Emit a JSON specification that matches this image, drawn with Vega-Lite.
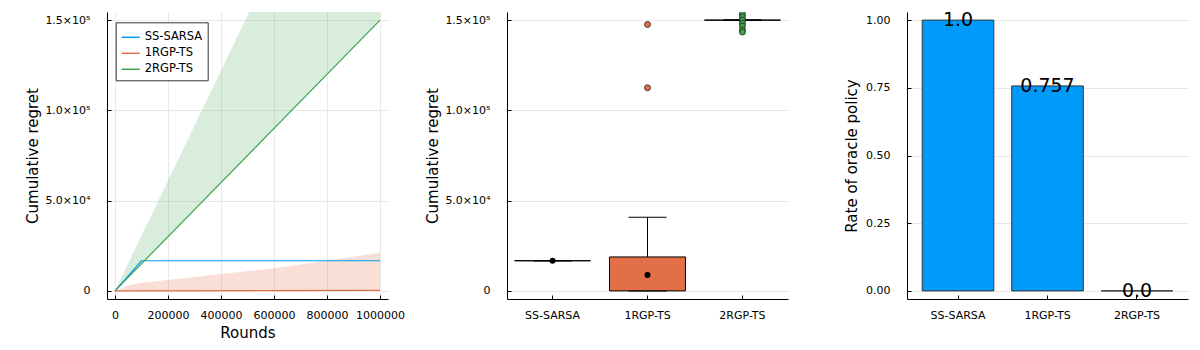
{
  "$schema": "https://vega.github.io/schema/vega-lite/v6.json",
  "padding": {"left": 25, "top": 12, "right": 5, "bottom": 5},
  "bounds": "flush",
  "spacing": 119,
  "config": {
    "font": "DejaVu Sans",
    "view": {"stroke": null},
    "axis": {
      "domainColor": "#000", "domainWidth": 1, "tickColor": "#000", "tickSize": -4,
      "labelFontSize": 11, "labelColor": "#000", "labelFont": "DejaVu Sans",
      "titleFontSize": 15, "titleFontWeight": "normal", "titleColor": "#000", "titleFont": "DejaVu Sans",
      "gridColor": "#e8e8e8", "gridWidth": 1
    },
    "axisY": {"labelPadding": 21},
    "axisX": {"labelPadding": 14}
  },
  "datasets": {
    "lines": [
      {"series": "SS-SARSA", "rounds": 0, "regret": 0},
      {"series": "SS-SARSA", "rounds": 100000, "regret": 16700},
      {"series": "SS-SARSA", "rounds": 1000000, "regret": 16700},
      {"series": "1RGP-TS", "rounds": 0, "regret": 0},
      {"series": "1RGP-TS", "rounds": 1000000, "regret": 300},
      {"series": "2RGP-TS", "rounds": 0, "regret": 0},
      {"series": "2RGP-TS", "rounds": 1000000, "regret": 150000}
    ],
    "bands": [
      {"series": "1RGP-TS", "rounds": 0, "lo": 0, "hi": 0},
      {"series": "1RGP-TS", "rounds": 20000, "lo": 0, "hi": 1100},
      {"series": "1RGP-TS", "rounds": 40000, "lo": 0, "hi": 2400},
      {"series": "1RGP-TS", "rounds": 60000, "lo": 0, "hi": 3200},
      {"series": "1RGP-TS", "rounds": 90000, "lo": 0, "hi": 4200},
      {"series": "1RGP-TS", "rounds": 200000, "lo": 0, "hi": 6000},
      {"series": "1RGP-TS", "rounds": 400000, "lo": 0, "hi": 9300},
      {"series": "1RGP-TS", "rounds": 600000, "lo": 0, "hi": 12600},
      {"series": "1RGP-TS", "rounds": 800000, "lo": 0, "hi": 16700},
      {"series": "1RGP-TS", "rounds": 1000000, "lo": 0, "hi": 21200},
      {"series": "2RGP-TS", "rounds": 0, "lo": 0, "hi": 0},
      {"series": "2RGP-TS", "rounds": 1000000, "lo": 150000, "hi": 305000}
    ],
    "box": [
      {"algo": "SS-SARSA", "lower": 16600, "q1": 16680, "median": 16700, "q3": 16720, "upper": 16800, "mean": 16700},
      {"algo": "1RGP-TS", "lower": 0, "q1": 0, "median": 200, "q3": 18800, "upper": 40800, "mean": 8860},
      {"algo": "2RGP-TS", "lower": 149800, "q1": 149950, "median": 150000, "q3": 150050, "upper": 150200, "mean": 150000}
    ],
    "outliers": [
      {"algo": "1RGP-TS", "regret": 147600},
      {"algo": "1RGP-TS", "regret": 112500},
      {"algo": "2RGP-TS", "regret": 153300},
      {"algo": "2RGP-TS", "regret": 151700},
      {"algo": "2RGP-TS", "regret": 150000},
      {"algo": "2RGP-TS", "regret": 148300},
      {"algo": "2RGP-TS", "regret": 146700},
      {"algo": "2RGP-TS", "regret": 144500},
      {"algo": "2RGP-TS", "regret": 143400}
    ],
    "rate": [
      {"algo": "SS-SARSA", "rate": 1.0, "label": "1.0"},
      {"algo": "1RGP-TS", "rate": 0.757, "label": "0.757"},
      {"algo": "2RGP-TS", "rate": 0.0, "label": "0.0"}
    ]
  },
  "hconcat": [
    {
      "width": 281, "height": 287,
      "layer": [
        {
          "data": {"name": "bands"},
          "transform": [{"filter": "datum.series == '1RGP-TS'"}],
          "mark": {"type": "area", "clip": true, "opacity": 0.22, "color": "#E26F46"},
          "encoding": {
            "x": {"field": "rounds", "type": "quantitative",
              "scale": {"domain": [-30000, 1030000], "nice": false, "zero": false},
              "axis": {"title": "Rounds", "values": [0, 200000, 400000, 600000, 800000, 1000000], "format": "d",
                "titleX": 140.5, "titleY": 33.3, "titleBaseline": "middle", "titleAlign": "center"}},
            "y": {"field": "hi", "type": "quantitative",
              "scale": {"domain": [-4500, 154500], "nice": false, "zero": false},
              "axis": {"title": "Cumulative regret", "values": [0, 50000, 100000, 150000],
                "labelExpr": "datum.value == 0 ? '0' : datum.value == 50000 ? '5.0×10⁴' : datum.value == 100000 ? '1.0×10⁵' : '1.5×10⁵'",
                "titleX": -74.5, "titleY": 143.5, "titleBaseline": "middle", "titleAlign": "center", "titleAngle": -90}},
            "y2": {"field": "lo"}
          }
        },
        {
          "data": {"name": "bands"},
          "transform": [{"filter": "datum.series == '2RGP-TS'"}],
          "mark": {"type": "area", "clip": true, "opacity": 0.2, "color": "#3DA44D"},
          "encoding": {
            "x": {"field": "rounds", "type": "quantitative"},
            "y": {"field": "hi", "type": "quantitative"},
            "y2": {"field": "lo"}
          }
        },
        {
          "data": {"name": "lines"},
          "mark": {"type": "line", "clip": true, "strokeWidth": 1.2},
          "encoding": {
            "x": {"field": "rounds", "type": "quantitative"},
            "y": {"field": "regret", "type": "quantitative"},
            "color": {"field": "series", "type": "nominal",
              "scale": {"domain": ["SS-SARSA", "1RGP-TS", "2RGP-TS"], "range": ["#009AFA", "#E26F46", "#3DA44D"]},
              "legend": {"title": null, "orient": "none", "legendX": 8.7, "legendY": 10.3,
                "symbolType": "stroke", "symbolSize": 324, "symbolStrokeWidth": 1.5,
                "labelFontSize": 11.5, "labelFont": "DejaVu Sans", "labelColor": "#000", "padding": 5, "rowPadding": -2.7,
                "strokeColor": "#333", "fillColor": "white", "labelOffset": 4, "cornerRadius": 0}}
          }
        }
      ]
    },
    {
      "width": 281, "height": 287,
      "layer": [
        {
          "data": {"name": "box"},
          "mark": {"type": "rule", "color": "#000", "strokeWidth": 1},
          "encoding": {
            "x": {"field": "algo", "type": "nominal",
              "scale": {"type": "band", "domain": ["SS-SARSA", "1RGP-TS", "2RGP-TS"], "paddingInner": 0.2, "paddingOuter": 0.08},
              "axis": {"title": null, "labelAngle": 0, "bandPosition": 0.5}},
            "y": {"field": "lower", "type": "quantitative",
              "scale": {"domain": [-4500, 154500], "nice": false, "zero": false},
              "axis": {"title": "Cumulative regret", "values": [0, 50000, 100000, 150000],
                "labelExpr": "datum.value == 0 ? '0' : datum.value == 50000 ? '5.0×10⁴' : datum.value == 100000 ? '1.0×10⁵' : '1.5×10⁵'",
                "titleX": -74.5, "titleY": 143.5, "titleBaseline": "middle", "titleAlign": "center", "titleAngle": -90}},
            "y2": {"field": "upper"}
          }
        },
        {
          "data": {"name": "box"},
          "mark": {"type": "bar", "stroke": "#000", "strokeWidth": 1, "clip": true},
          "encoding": {
            "x": {"field": "algo", "type": "nominal"},
            "y": {"field": "q1", "type": "quantitative"},
            "y2": {"field": "q3"},
            "fill": {"field": "algo", "type": "nominal",
              "scale": {"domain": ["SS-SARSA", "1RGP-TS", "2RGP-TS"], "range": ["#009AFA", "#E26F46", "#3DA44D"]},
              "legend": null}
          }
        },
        {
          "data": {"name": "box"},
          "mark": {"type": "tick", "size": 38, "thickness": 1, "color": "#000", "opacity": 1},
          "encoding": {
            "x": {"field": "algo", "type": "nominal"},
            "y": {"field": "upper", "type": "quantitative"}
          }
        },
        {
          "data": {"name": "box"},
          "mark": {"type": "tick", "size": 38, "thickness": 1, "color": "#000", "opacity": 1},
          "encoding": {
            "x": {"field": "algo", "type": "nominal"},
            "y": {"field": "lower", "type": "quantitative"}
          }
        },
        {
          "data": {"name": "box"},
          "mark": {"type": "point", "filled": true, "shape": "circle", "size": 36, "color": "#000", "opacity": 1},
          "encoding": {
            "x": {"field": "algo", "type": "nominal"},
            "y": {"field": "mean", "type": "quantitative"}
          }
        },
        {
          "data": {"name": "outliers"},
          "mark": {"type": "point", "filled": true, "shape": "circle", "size": 36, "stroke": "#222", "strokeWidth": 0.8, "opacity": 1, "clip": true},
          "encoding": {
            "x": {"field": "algo", "type": "nominal"},
            "y": {"field": "regret", "type": "quantitative"},
            "fill": {"field": "algo", "type": "nominal", "legend": null}
          }
        }
      ]
    },
    {
      "width": 281, "height": 287,
      "layer": [
        {
          "data": {"name": "rate"},
          "mark": {"type": "bar", "color": "#009AFA", "stroke": "#333", "strokeWidth": 1},
          "encoding": {
            "x": {"field": "algo", "type": "nominal",
              "scale": {"type": "band", "domain": ["SS-SARSA", "1RGP-TS", "2RGP-TS"], "paddingInner": 0.2, "paddingOuter": 0.17},
              "axis": {"title": null, "labelAngle": 0, "bandPosition": 0.5}},
            "y": {"field": "rate", "type": "quantitative",
              "scale": {"domain": [-0.03, 1.03], "nice": false, "zero": false},
              "axis": {"title": "Rate of oracle policy", "values": [0, 0.25, 0.5, 0.75, 1], "format": ".2f",
                "titleX": -55.3, "titleY": 143.5, "titleBaseline": "middle", "titleAlign": "center", "titleAngle": -90}}
          }
        },
        {
          "data": {"name": "rate"},
          "mark": {"type": "text", "fontSize": 19, "baseline": "middle", "align": "center", "color": "#000", "clip": true, "font": "DejaVu Sans"},
          "encoding": {
            "x": {"field": "algo", "type": "nominal"},
            "y": {"field": "rate", "type": "quantitative"},
            "text": {"field": "label"}
          }
        }
      ]
    }
  ]
}
